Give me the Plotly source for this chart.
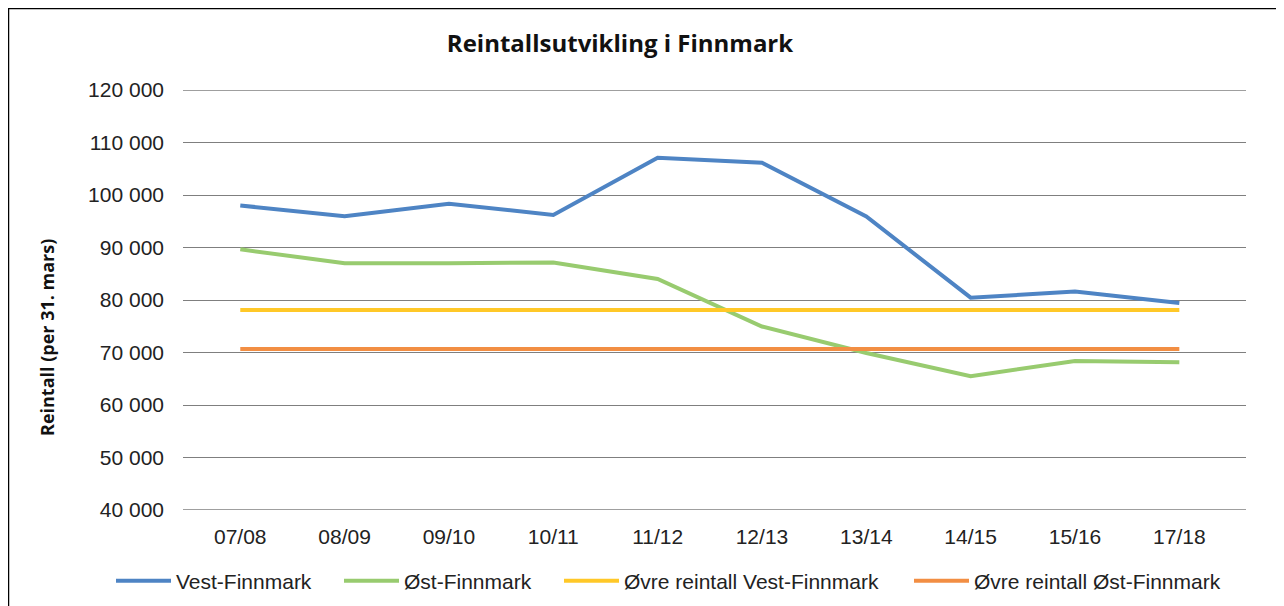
import plotly.graph_objects as go

# ---- data ----
seasons = ["07/08", "08/09", "09/10", "10/11", "11/12", "12/13", "13/14", "14/15", "15/16", "17/18"]
vest_finnmark = [98000, 95950, 98350, 96200, 107100, 106150, 95900, 80450, 81600, 79450]
ost_finnmark = [89650, 87000, 87000, 87150, 84000, 74950, 69900, 65500, 68400, 68120]
ovre_vest = [78100] * len(seasons)
ovre_ost = [70650] * len(seasons)

series_names = ["Vest-Finnmark", "Øst-Finnmark", "Øvre reintall Vest-Finnmark", "Øvre reintall Øst-Finnmark"]
series_values = [vest_finnmark, ost_finnmark, ovre_vest, ovre_ost]
series_colors = ["#4E84C4", "#98CB6F", "#FFC828", "#F28E43"]

y_ticks = [40000, 50000, 60000, 70000, 80000, 90000, 100000, 110000, 120000]
y_min, y_max = 40000, 120000

# ---- layout geometry (page pixels; the page body has an 8px margin) ----
OFF = 8
PAGE_W, PAGE_H = 1284, 606
W, H = PAGE_W - OFF, PAGE_H - OFF
PLOT_L, PLOT_R, PLOT_T, PLOT_B = 183, 1246, 90, 510
ML, MR, MT, MB = PLOT_L - OFF, PAGE_W - PLOT_R, PLOT_T - OFF, PAGE_H - PLOT_B
PW, PH = PLOT_R - PLOT_L, PLOT_B - PLOT_T


def px_x(px):
    return (px - PLOT_L) / PW


def px_y(py):
    return (PLOT_B - py) / PH


legend_ids = ["legend", "legend2", "legend3", "legend4"]
legend_line_starts = [117, 345, 565, 915]

fig = go.Figure()
for name, vals, col, lid in zip(series_names, series_values, series_colors, legend_ids):
    fig.add_trace(go.Scatter(
        x=seasons, y=vals, name=name, mode="lines",
        line=dict(color=col, width=4),
        legend=lid,
    ))

FONT = "Liberation Sans, Arial, sans-serif"
legend_font = dict(family=FONT, size=21, color="#222222")

layout_legends = {}
for lid, lx in zip(legend_ids, legend_line_starts):
    layout_legends[lid] = dict(
        orientation="h", x=px_x(lx - 6), y=px_y(581),
        xanchor="left", yanchor="middle",
        font=legend_font, bgcolor="rgba(0,0,0,0)",
        itemwidth=55,
    )

GRID_COLOR = "#7F7F7F"
fig.update_layout(
    width=W, height=H,
    margin=dict(l=ML, r=MR, t=MT, b=MB, pad=0, autoexpand=False),
    paper_bgcolor="white", plot_bgcolor="white",
    separators=", ",
    font=dict(family=FONT, size=21, color="#222222"),
    title=dict(
        text="<b>Reintallsutvikling i Finnmark</b>",
        x=(620 - OFF) / W, y=1 - (44 - OFF) / H, xanchor="center", yanchor="middle",
        xref="container", yref="container",
        font=dict(family="Open Sans, sans-serif", size=24, color="#111111"),
    ),
    xaxis=dict(
        type="category", range=[-0.549, 9.639],
        showgrid=False, showline=False, zeroline=False,
        ticks="", ticklabelstandoff=12,
        tickfont=dict(family=FONT, size=21, color="#222222"),
        fixedrange=True, automargin=False,
    ),
    yaxis=dict(
        range=[y_min, y_max],
        tickvals=y_ticks, tickformat=",d",
        showgrid=True, gridcolor=GRID_COLOR, gridwidth=1.3,
        showline=False, zeroline=False,
        ticks="", ticklabelstandoff=18,
        tickfont=dict(family=FONT, size=21, color="#222222"),
        fixedrange=True, automargin=False,
    ),
    showlegend=True,
    **layout_legends,
)

# gridlines at the range edges (plotly omits those)
for yv in (y_min, y_max):
    fig.add_shape(type="line", xref="paper", yref="y", x0=0, x1=1, y0=yv, y1=yv,
                  line=dict(color=GRID_COLOR, width=1.3), layer="below")

# y-axis title as rotated annotation
fig.add_annotation(
    text="<b>Reintall (per 31. mars)</b>",
    xref="paper", yref="paper", x=px_x(47), y=px_y(338),
    xanchor="center", yanchor="middle", textangle=-90, showarrow=False,
    font=dict(family="Open Sans, sans-serif", size=18, color="#111111"),
)

# outer frame (top and left edges visible)
frame = dict(color="black", width=2.5)
fig.add_shape(type="line", xref="paper", yref="paper",
              x0=px_x(8), x1=px_x(PAGE_W + 10), y0=px_y(8), y1=px_y(8), line=frame)
fig.add_shape(type="line", xref="paper", yref="paper",
              x0=px_x(8), x1=px_x(8), y0=px_y(8), y1=px_y(PAGE_H + 10), line=frame)

fig.write_html("out.html")
